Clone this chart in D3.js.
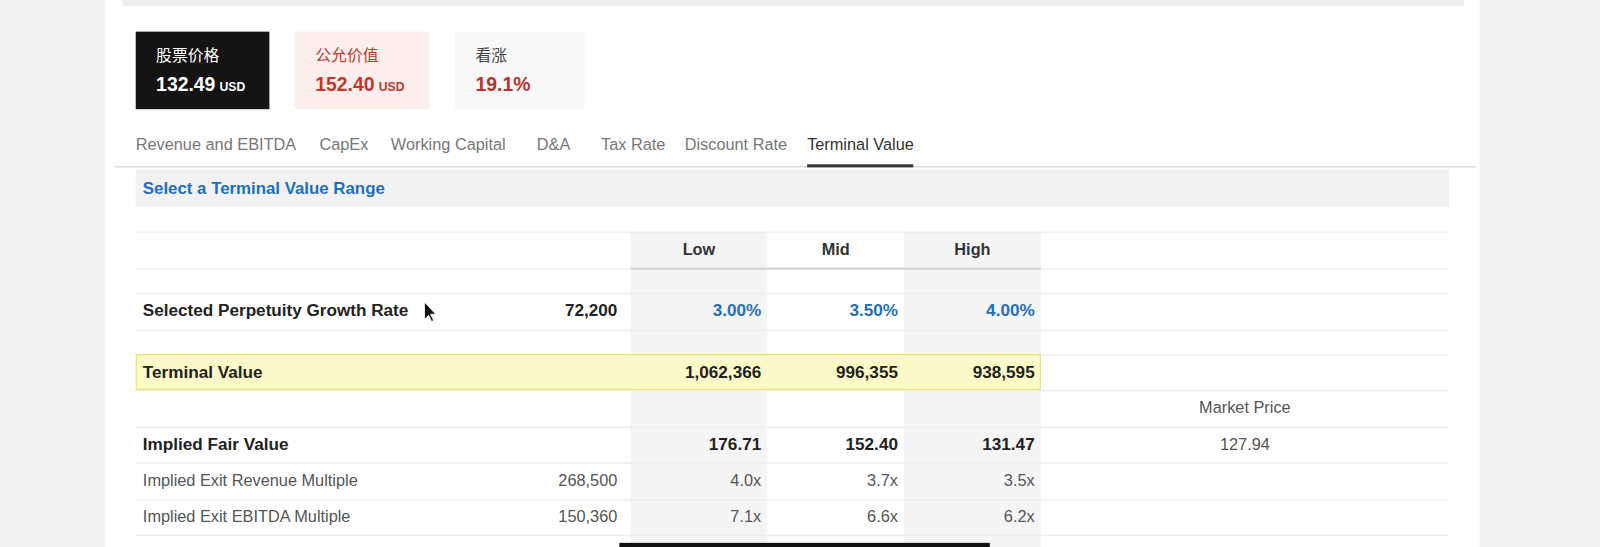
<!DOCTYPE html><html><head><meta charset="utf-8"><script src="https://cdn.jsdelivr.net/npm/d3@7"></script>
<style>body{margin:0;background:#fff}svg{display:block;font-family:"Liberation Sans",Arial,sans-serif}</style></head><body>
<svg id="c" width="1600" height="547"></svg>
<script>
const cards=[{label:"股票价格",value:"132.49",unit:"USD",bg:"#141414",fg:"#fff",x0:133,x1:264},{label:"公允价值",value:"152.40",unit:"USD",bg:"#fdeeee",fg:"#c0392b",x0:289,x1:421},{label:"看涨",value:"19.1%",unit:"",bg:"#f8f8f8",fg:"#b83232",lab:"#444",x0:446,x1:573}];
const tabs=["Revenue and EBITDA","CapEx","Working Capital","D&A","Tax Rate","Discount Rate","Terminal Value"];
const tabX=[133,313,383,526,589,671,791];
const cols=["Low","Mid","High"];
const rows=[
 {label:"Selected Perpetuity Growth Rate",base:"72,200",vals:["3.00%","3.50%","4.00%"],bold:true,blue:true,y:305},
 {label:"Terminal Value",base:"",vals:["1,062,366","996,355","938,595"],bold:true,y:365,hl:true},
 {label:"Implied Fair Value",base:"",vals:["176.71","152.40","131.47"],bold:true,y:436,extra:"127.94"},
 {label:"Implied Exit Revenue Multiple",base:"268,500",vals:["4.0x","3.7x","3.5x"],y:471},
 {label:"Implied Exit EBITDA Multiple",base:"150,360",vals:["7.1x","6.6x","6.2x"],y:507}];
const lines=[227,263,287,323,347,382,418,453,489,524];
const root=d3.select("#c");
root.append("rect").attr("width",1600).attr("height",547).attr("fill","#f3f3f3");
const svg=root.append("g").attr("transform","scale(1.0204)");
svg.append("rect").attr("x",103).attr("width",1347).attr("height",547).attr("fill","#fff");
svg.append("rect").attr("x",120).attr("width",1315).attr("height",6).attr("fill","#eeeeee");
const FS=16;
cards.forEach(c=>{svg.append("rect").attr("x",c.x0).attr("y",31).attr("width",c.x1-c.x0).attr("height",76).attr("fill",c.bg);
 svg.append("text").attr("x",c.x0+20).attr("y",60).attr("font-size",15.5).attr("font-family","Noto Sans CJK SC").attr("fill",c.lab||c.fg).text(c.label);
 const t=svg.append("text").attr("x",c.x0+20).attr("y",89).attr("font-size",19).attr("font-weight","bold").attr("fill",c.fg);
 t.append("tspan").text(c.value);t.append("tspan").attr("font-size",12).attr("dx",4).text(c.unit);});
tabs.forEach((t,i)=>svg.append("text").attr("x",tabX[i]).attr("y",147).attr("font-size",FS).attr("fill",i==6?"#333":"#777").text(t));
svg.append("rect").attr("x",113).attr("y",163).attr("width",1333).attr("height",1).attr("fill","#ccc");
svg.append("rect").attr("x",791).attr("y",161).attr("width",104).attr("height",3).attr("fill","#333");
svg.append("rect").attr("x",133).attr("y",166).attr("width",1287).attr("height",37).attr("fill","#f2f2f2");
svg.append("text").attr("x",140).attr("y",190).attr("font-size",16.5).attr("font-weight","bold").attr("fill","#1f6fbf").text("Select a Terminal Value Range");
const x=d3.scaleBand().domain(cols).range([618,1020]);
cols.forEach((c,i)=>{if(i!=1)svg.append("rect").attr("x",x(c)).attr("y",227).attr("width",x.bandwidth()).attr("height",320).attr("fill","#f5f5f5");
 svg.append("text").attr("x",x(c)+x.bandwidth()/2).attr("y",250).attr("text-anchor","middle").attr("font-size",FS).attr("font-weight","bold").attr("fill","#333").text(c);});
lines.forEach(y=>svg.append("rect").attr("x",133).attr("y",y).attr("width",1287).attr("height",1.5).attr("fill","#efefef"));
svg.append("rect").attr("x",618).attr("y",262).attr("width",402).attr("height",2.5).attr("fill","#d6d6d6");
svg.append("rect").attr("x",133.5).attr("y",347.5).attr("width",886).attr("height",34).attr("fill","#fcfac6").attr("stroke","#e6df70");
rows.forEach(r=>{const w=r.bold?"bold":"normal",col=r.bold?"#222":"#555",fs=r.bold?16.8:FS;
 svg.append("text").attr("x",140).attr("y",r.y+5).attr("font-size",fs).attr("font-weight",w).attr("fill",col).text(r.label);
 svg.append("text").attr("x",605).attr("y",r.y+5).attr("text-anchor","end").attr("font-size",fs).attr("font-weight",w).attr("fill",col).text(r.base);
 r.vals.forEach((v,i)=>svg.append("text").attr("x",x(cols[i])+x.bandwidth()-6).attr("y",r.y+5).attr("text-anchor","end").attr("font-size",fs).attr("font-weight",w).attr("fill",r.blue?"#1f6fbf":col).text(v));
 if(r.extra)svg.append("text").attr("x",1220).attr("y",r.y+5).attr("text-anchor","middle").attr("font-size",FS).attr("fill","#555").text(r.extra);});
svg.append("text").attr("x",1220).attr("y",405).attr("text-anchor","middle").attr("font-size",FS).attr("fill","#555").text("Market Price");
svg.append("path").attr("d","M416,296 l0,17 l4,-4 l3,6 l2,-1 l-3,-6 l5,0 z").attr("fill","#111").attr("stroke","#fff").attr("stroke-width",0.8);
svg.append("rect").attr("x",607).attr("y",532).attr("width",363).attr("height",5).attr("fill","#111");
</script></body></html>
